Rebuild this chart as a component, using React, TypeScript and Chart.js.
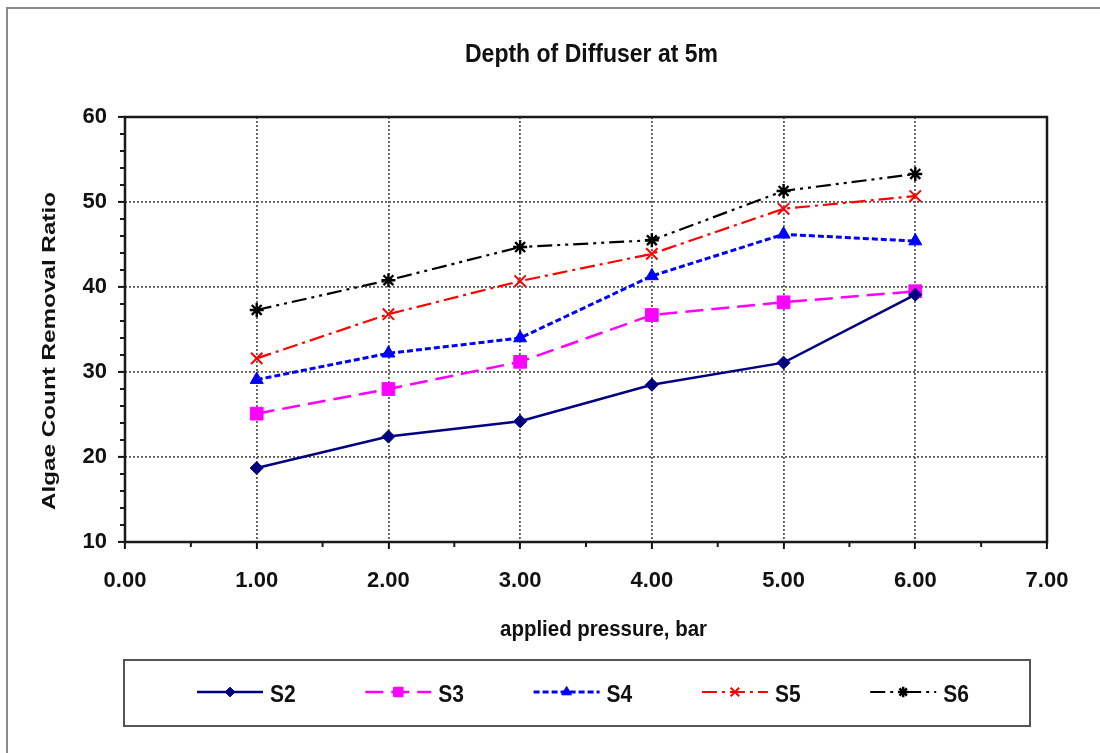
import React, { useEffect, useRef } from 'react';
import { Chart, registerables } from 'chart.js';
import { drawPoint } from 'chart.js/helpers';

Chart.register(...registerables);

// ---- data ----
const pressures = [1, 2, 3, 4, 5, 6];
const s2 = [18.7, 22.4, 24.2, 28.5, 31.1, 39.1];
const s3 = [25.1, 28.0, 31.2, 36.7, 38.2, 39.5];
const s4 = [29.1, 32.2, 34.0, 41.3, 46.2, 45.4];
const s5 = [31.6, 36.8, 40.7, 43.9, 49.2, 50.7];
const s6 = [37.3, 40.8, 44.7, 45.5, 51.3, 53.3];
const seriesNames = ['S2', 'S3', 'S4', 'S5', 'S6'];
const seriesValues = [s2, s3, s4, s5, s6];
const chartTitle = 'Depth of Diffuser at 5m';
const yAxisTitle = 'Algae Count Removal Ratio';
const xAxisTitle = 'applied pressure, bar';
const xMin = 0, xMax = 7, xStep = 1;
const yMin = 10, yMax = 60, yStep = 10;

// ---- styles ----
const colors = ['#000080', '#FF00FF', '#0000FF', '#FF0000', '#000000'];
const dashes = [[], [18, 8], [6, 3], [15, 5, 3, 5], [15, 5, 3, 5, 3, 5]];
const lineWidths = [2.5, 2.5, 3, 2.2, 2.2];
const pStyles = ['rectRot', 'rect', 'triangle', 'crossRot', 'star'];
const pRadii = [6.5, 9, 7.5, 8, 7];
const pBorder = [1, 1, 1, 2, 2.4];

const FONT = "'Liberation Sans', Arial, Helvetica, sans-serif";

function fitText(ctx: CanvasRenderingContext2D, text: string, x: number, y: number, size: number,
  width: number, align: CanvasTextAlign, rot = 0, sy = 1) {
  ctx.save();
  ctx.font = `bold ${size}px ${FONT}`;
  const w = ctx.measureText(text).width;
  const sx = width ? width / w : 1;
  ctx.translate(x, y);
  ctx.rotate(rot);
  ctx.scale(sx, sy);
  ctx.textAlign = align;
  ctx.textBaseline = 'alphabetic';
  ctx.fillStyle = '#111';
  ctx.fillText(text, 0, 0);
  ctx.restore();
}

const decorPlugin = {
  id: 'decor',
  beforeDraw(chart: any) {
    const ctx = chart.ctx as CanvasRenderingContext2D;
    ctx.save();
    ctx.fillStyle = '#fff';
    ctx.fillRect(0, 0, chart.width, chart.height);
    ctx.strokeStyle = '#8a8a8a';
    ctx.lineWidth = 2;
    ctx.strokeRect(7, 8, chart.width + 20, chart.height + 20);
    ctx.restore();
  },
  afterDraw(chart: any) {
    const ctx = chart.ctx as CanvasRenderingContext2D;
    const { left, right, top, bottom } = chart.chartArea;
    const xs = chart.scales.x, ys = chart.scales.y;
    ctx.save();
    // frame
    ctx.strokeStyle = '#1a1a1a';
    ctx.lineWidth = 2.5;
    ctx.setLineDash([]);
    ctx.strokeRect(left, top, right - left, bottom - top);
    // minor ticks
    ctx.lineWidth = 2;
    ctx.beginPath();
    for (let v = yMin + 2; v < yMax; v += 2) {
      if (v % yStep === 0) continue;
      const py = ys.getPixelForValue(v);
      ctx.moveTo(left - 5, py); ctx.lineTo(left, py);
    }
    for (let v = xMin + 0.5; v < xMax; v += 1) {
      const px = xs.getPixelForValue(v);
      ctx.moveTo(px, bottom); ctx.lineTo(px, bottom + 5);
    }
    ctx.stroke();
    ctx.restore();

    // titles
    fitText(ctx, chartTitle, 591.5, 62, 23, 253, 'center', 0, 1.15);
    fitText(ctx, xAxisTitle, 603.5, 636, 20.5, 207, 'center', 0, 1.08);
    fitText(ctx, yAxisTitle, 55, 351, 19, 318, 'center', -Math.PI / 2, 1);

    // legend
    ctx.save();
    ctx.strokeStyle = '#555';
    ctx.lineWidth = 2;
    ctx.setLineDash([]);
    ctx.strokeRect(124, 660, 906, 66);
    const ly = 692;
    for (let i = 0; i < seriesNames.length; i++) {
      const x0 = 197 + i * 168.3;
      ctx.save();
      ctx.strokeStyle = colors[i];
      ctx.lineWidth = lineWidths[i];
      ctx.setLineDash(dashes[i]);
      ctx.beginPath();
      ctx.moveTo(x0, ly); ctx.lineTo(x0 + 66, ly);
      ctx.stroke();
      ctx.setLineDash([]);
      ctx.fillStyle = colors[i];
      ctx.strokeStyle = colors[i];
      ctx.lineWidth = pBorder[i];
      drawPoint(ctx, { pointStyle: pStyles[i], radius: pRadii[i] * 0.75, rotation: 0, borderWidth: pBorder[i] } as any, x0 + 33, ly);
      ctx.restore();
      fitText(ctx, seriesNames[i], x0 + 73, 702, 21, 0, 'left', 0, 1.12);
    }
    ctx.restore();
  },
};

export default function App() {
  const ref = useRef<HTMLCanvasElement | null>(null);
  useEffect(() => {
    document.body.style.margin = '0';
    if (!ref.current) return;
    const gridColor = (c: any) => {
      const v = c.tick ? c.tick.value : null;
      return v === xMin || v === xMax || v === yMin || v === yMax ? 'rgba(0,0,0,0)' : '#5a5a5a';
    };
    const chart = new Chart(ref.current, {
      type: 'line',
      data: {
        datasets: seriesNames.map((name, i) => ({
          label: name,
          data: pressures.map((p, j) => ({ x: p, y: seriesValues[i][j] })),
          borderColor: colors[i],
          backgroundColor: colors[i],
          borderWidth: lineWidths[i],
          borderDash: dashes[i],
          pointStyle: pStyles[i] as any,
          pointRadius: pRadii[i],
          pointBackgroundColor: colors[i],
          pointBorderColor: colors[i],
          pointBorderWidth: pBorder[i],
          fill: false,
          tension: 0,
          clip: false as any,
        })),
      },
      options: {
        animation: false,
        responsive: false,
        devicePixelRatio: 1,
        events: [],
        layout: { autoPadding: false, padding: { top: 117, right: 53, left: 0, bottom: 0 } } as any,
        plugins: { legend: { display: false }, title: { display: false }, tooltip: { enabled: false } },
        scales: {
          x: {
            type: 'linear',
            min: xMin, max: xMax,
            afterFit: (s: any) => { s.height = 211; },
            ticks: {
              stepSize: xStep,
              callback: (v: any) => Number(v).toFixed(2),
              font: { family: FONT, size: 22, weight: 'bold' },
              color: '#111',
              padding: 19,
              maxRotation: 0,
            },
            grid: {
              color: gridColor, lineWidth: 1.8, tickColor: '#111', tickWidth: 2, tickLength: 7,
              tickBorderDash: [],
            } as any,
            border: { display: false, dash: [2, 2] },
          },
          y: {
            type: 'linear',
            min: yMin, max: yMax,
            afterFit: (s: any) => { s.width = 125; },
            ticks: {
              stepSize: yStep,
              font: { family: FONT, size: 22, weight: 'bold' },
              color: '#111',
              padding: 11,
            },
            grid: {
              color: gridColor, lineWidth: 1.8, tickColor: '#111', tickWidth: 2, tickLength: 7,
              tickBorderDash: [],
            } as any,
            border: { display: false, dash: [2, 2] },
          },
        },
      } as any,
      plugins: [decorPlugin],
    });
    return () => chart.destroy();
  }, []);
  return (
    <div style={{ width: 1100, height: 753 }}>
      <canvas ref={ref} width={1100} height={753} style={{ display: 'block', width: 1100, height: 753 }} />
    </div>
  );
}
